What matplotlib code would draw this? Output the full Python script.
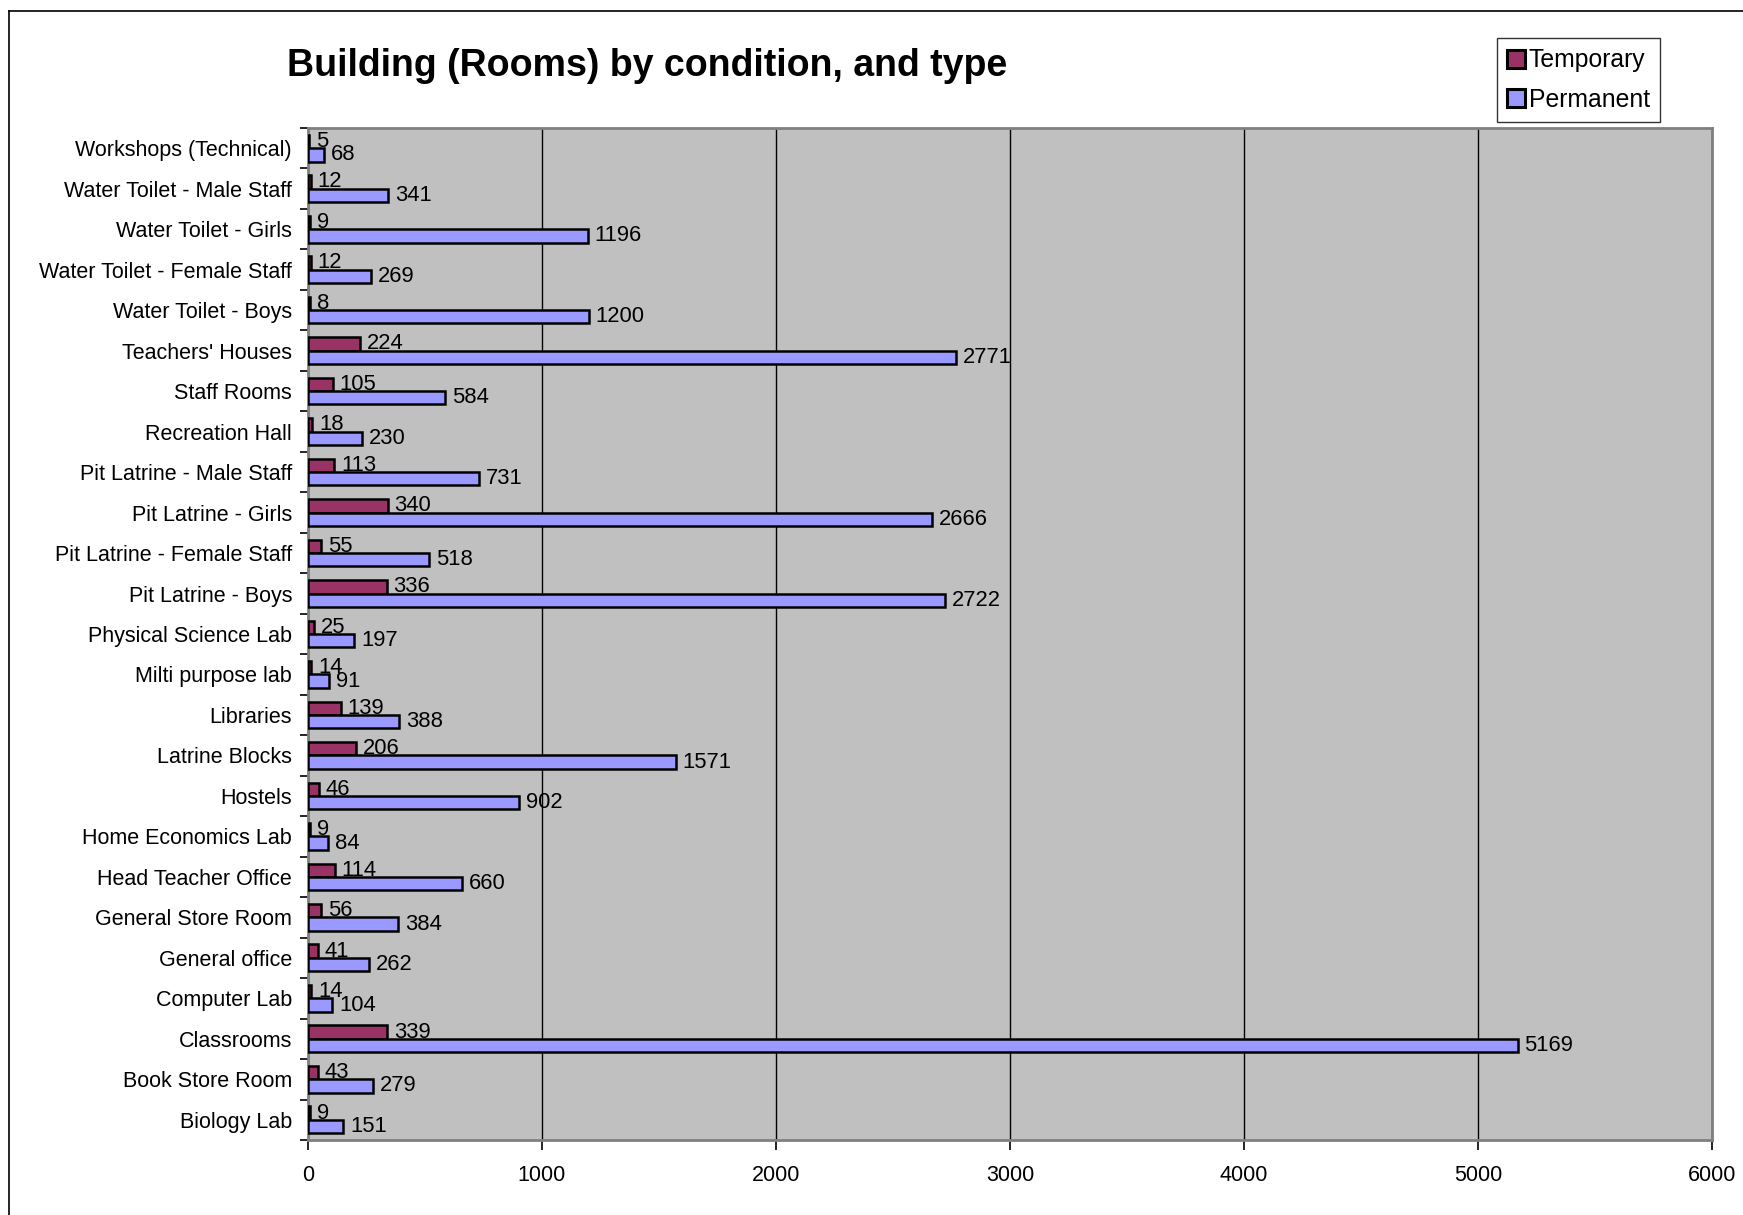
import matplotlib
matplotlib.use("Agg")
import matplotlib.pyplot as plt
from matplotlib.lines import Line2D
import numpy as np

plt.rcParams['font.family'] = ['Liberation Sans', 'DejaVu Sans']

# categories listed bottom to top
categories = ["Biology Lab", "Book Store Room", "Classrooms", "Computer Lab",
              "General office", "General Store Room", "Head Teacher Office",
              "Home Economics Lab", "Hostels", "Latrine Blocks", "Libraries",
              "Milti purpose lab", "Physical Science Lab", "Pit Latrine - Boys",
              "Pit Latrine - Female Staff", "Pit Latrine - Girls",
              "Pit Latrine - Male Staff", "Recreation Hall", "Staff Rooms",
              "Teachers' Houses", "Water Toilet - Boys",
              "Water Toilet - Female Staff", "Water Toilet - Girls",
              "Water Toilet - Male Staff", "Workshops (Technical)"]
temporary = [9, 43, 339, 14, 41, 56, 114, 9, 46, 206, 139, 14, 25, 336, 55,
             340, 113, 18, 105, 224, 8, 12, 9, 12, 5]
permanent = [151, 279, 5169, 104, 262, 384, 660, 84, 902, 1571, 388, 91, 197,
             2722, 518, 2666, 731, 230, 584, 2771, 1200, 269, 1196, 341, 68]
x_ticks = [0, 1000, 2000, 3000, 4000, 5000, 6000]

fig = plt.figure(figsize=(17.43, 12.15), dpi=100)
ax = fig.add_axes([0.1767, 0.0617, 0.8055, 0.833])
ax.set_facecolor('#C0C0C0')

y = np.arange(len(categories))
h = 0.33
bt = ax.barh(y + h / 2, temporary, height=h, color='#993366',
             edgecolor='black', linewidth=1.8, zorder=3, label='Temporary')
bp = ax.barh(y - h / 2, permanent, height=h, color='#9999FF',
             edgecolor='black', linewidth=1.8, zorder=5, label='Permanent')

for yi, v in zip(y, temporary):
    ax.annotate(str(v), (v, yi + h / 2), xytext=(5, 0), textcoords='offset points',
                va='center', ha='left', fontsize=15.8, zorder=4)
for yi, v in zip(y, permanent):
    ax.annotate(str(v), (v, yi - h / 2), xytext=(5, 0), textcoords='offset points',
                va='center', ha='left', fontsize=15.8, zorder=6)

ax.set_xlim(0, 6000)
ax.set_ylim(-0.5, len(categories) - 0.5)
ax.set_xticks(x_ticks)
ax.set_xticklabels([str(t) for t in x_ticks], fontsize=15.5)
ax.set_yticks(y)
ax.set_yticklabels(categories, fontsize=15.5)
ax.set_yticks(np.arange(-0.5, len(categories)), minor=True)
ax.tick_params(axis='y', which='major', length=0, pad=11.5)
ax.tick_params(axis='y', which='minor', length=6, width=1.2, direction='out')
ax.tick_params(axis='x', length=7, width=1.2, direction='out', pad=11)

ax.grid(axis='x', color='black', linewidth=1)
ax.set_axisbelow(True)
for s in ax.spines.values():
    s.set_color('#808080')
    s.set_linewidth(2)

fig.text(0.3715, 0.9375, "Building (Rooms) by condition, and type",
         ha='center', va='baseline', fontsize=27, fontweight='bold')

leg = fig.legend(handles=[bt, bp], loc='upper right',
                 bbox_to_anchor=(0.9524, 0.9687), fontsize=17.8,
                 frameon=True, fancybox=False, edgecolor='black',
                 handlelength=0.72, handleheight=0.72, handletextpad=0.15,
                 labelspacing=0.62, borderpad=0.42, borderaxespad=0)
leg.get_frame().set_linewidth(1)
for p in leg.get_patches():
    p.set_linewidth(2.2)

# outer chart frame
fig.add_artist(Line2D([9 / 1743, 9 / 1743], [0, 1 - 11 / 1215],
                      color='black', linewidth=1.2, transform=fig.transFigure))
fig.add_artist(Line2D([9 / 1743, 1], [1 - 11 / 1215, 1 - 11 / 1215],
                      color='black', linewidth=1.2, transform=fig.transFigure))

fig.savefig("out.png", dpi=100)
